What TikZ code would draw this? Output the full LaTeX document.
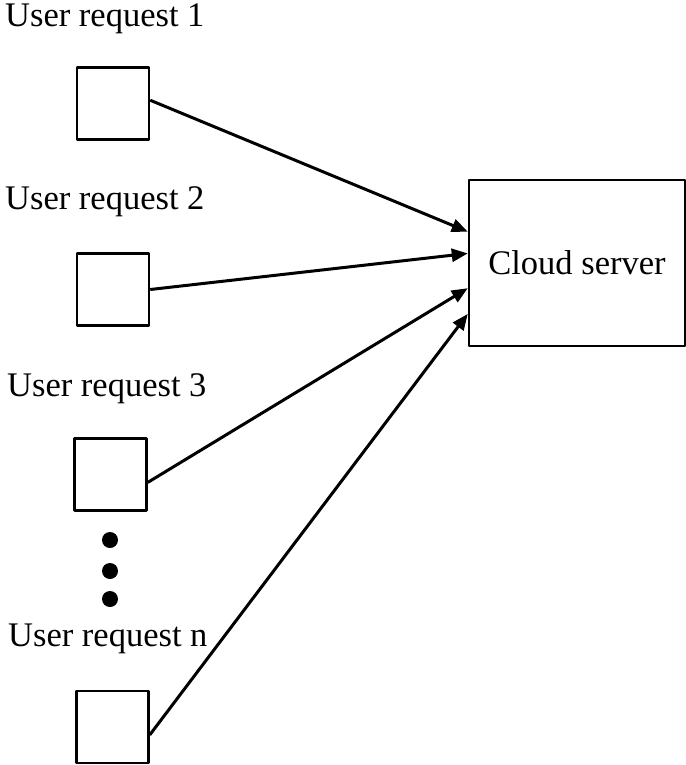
\documentclass[tikz,border=0pt]{standalone}
\usepackage{fontspec}
\setmainfont{Liberation Serif}
\usetikzlibrary{arrows.meta}
\begin{document}
\begin{tikzpicture}[x=1pt, y=-1pt, font=\fontsize{34.5}{40}\selectfont, line join=round, >={Triangle[length=16pt,width=13pt]}]%Cloud
				\tikzset{ubox/.style={draw, line width=2.5pt, minimum size=72pt, inner sep=0pt},
					lab/.style={anchor=base west, inner sep=0pt}}
				\useasboundingbox (0,0) rectangle (685,765);
				\node[lab](l1) at (5,27){User request 1};
				\node[lab](l2) at (5,209){User request 2};
				\node[lab](l3) at (7,396){User request 3};
				\node[lab](ln) at (8,646){User request n};
				\node[ubox](b1) at (113,103.5){};
				\node[ubox](b2) at (113,289.5){};
				\node[ubox](b3) at (110.5,474.5){};
				\node[ubox](bn) at (112.5,727){};
				\node[draw, line width=2.5pt, minimum width=216pt, minimum height=166pt, inner sep=0pt](cs) at (577,263){Cloud server};
				\foreach \y in{540,571,599}
				\fill(110,\y) circle(8);
				\draw[->, line width=3pt](b1.5)--(cs.164);
				\draw[->, line width=3pt](b2.east)--(cs.175);
				\draw[->, line width=3pt](b3.-12)--(cs.193);
				\draw[->, line width=3pt](bn.-12)--(cs.205);
			\end{tikzpicture}
\end{document}
